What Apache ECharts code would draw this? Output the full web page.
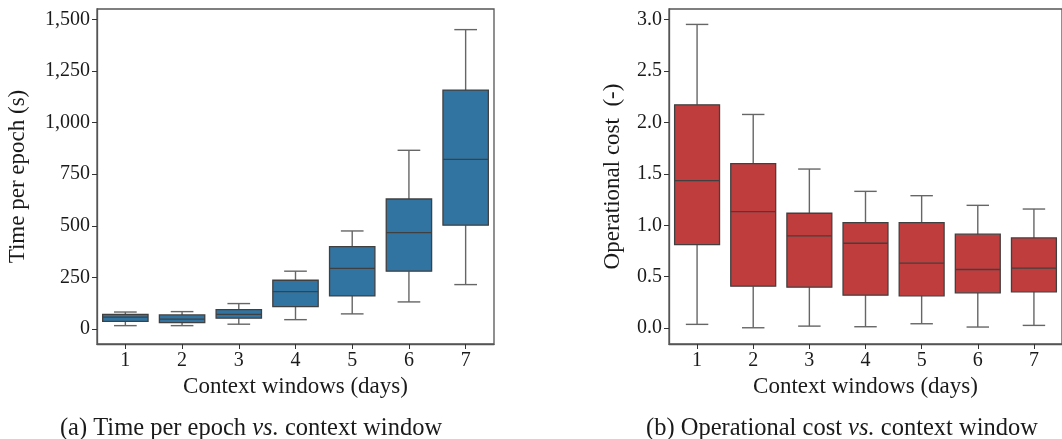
<!DOCTYPE html>
<html><head><meta charset="utf-8">
<script src="https://cdn.jsdelivr.net/npm/echarts@6/dist/echarts.min.js"></script>
<style>html,body{margin:0;padding:0;background:#fff}#c{width:1062px;height:439px}</style>
</head><body><div id="c"></div>
<script>
const categories = ['1','2','3','4','5','6','7'];
// [min, Q1, median, Q3, max]
const timeBoxes = [
  [16, 37, 57, 71, 82],
  [16, 31, 48, 68, 84],
  [23, 52, 71, 94, 123],
  [45, 108, 181, 236, 280],
  [73, 160, 294, 399, 475],
  [131, 280, 467, 630, 866],
  [215, 503, 822, 1158, 1451]
];
const costBoxes = [
  [0.036, 0.812, 1.434, 2.172, 2.954],
  [0.003, 0.408, 1.133, 1.599, 2.078],
  [0.019, 0.398, 0.896, 1.117, 1.547],
  [0.013, 0.320, 0.825, 1.026, 1.330],
  [0.042, 0.314, 0.631, 1.026, 1.288],
  [0.010, 0.343, 0.570, 0.913, 1.194],
  [0.026, 0.353, 0.583, 0.877, 1.158]
];
const timeTicks = [0, 250, 500, 750, 1000, 1250, 1500];
const costTicks = [0, 0.5, 1.0, 1.5, 2.0, 2.5, 3.0];

const FONT = 'Liberation Serif';
const TXT = '#1a1a1a';
const TICK_FS = 20, NAME_FS = 23, CAP_FS = 24.5;
const chart = echarts.init(document.getElementById('c'), null, {renderer: 'canvas'});

function renderBox(color) {
  return function (params, api) {
    const x = api.value(0);
    const pMin = api.coord([x, api.value(1)]);
    const pQ1 = api.coord([x, api.value(2)]);
    const pMed = api.coord([x, api.value(3)]);
    const pQ3 = api.coord([x, api.value(4)]);
    const pMax = api.coord([x, api.value(5)]);
    const band = api.size([1, 0])[0];
    const bw = band * 0.8, cw = bw / 2;
    const cx = pMed[0];
    const wStyle = {stroke: '#666', lineWidth: 1.4, fill: null};
    const eStyle = {stroke: '#404040', lineWidth: 1.3};
    return {
      type: 'group',
      children: [
        {type: 'line', shape: {x1: cx, y1: pQ1[1], x2: cx, y2: pMin[1]}, style: wStyle},
        {type: 'line', shape: {x1: cx, y1: pQ3[1], x2: cx, y2: pMax[1]}, style: wStyle},
        {type: 'line', shape: {x1: cx - cw / 2, y1: pMin[1], x2: cx + cw / 2, y2: pMin[1]}, style: wStyle},
        {type: 'line', shape: {x1: cx - cw / 2, y1: pMax[1], x2: cx + cw / 2, y2: pMax[1]}, style: wStyle},
        {type: 'rect', shape: {x: cx - bw / 2, y: pQ3[1], width: bw, height: pQ1[1] - pQ3[1]},
         style: {fill: color, stroke: '#404040', lineWidth: 1.3}},
        {type: 'line', shape: {x1: cx - bw / 2, y1: pMed[1], x2: cx + bw / 2, y2: pMed[1]}, style: eStyle}
      ]
    };
  };
}

function toData(boxes) {
  return boxes.map((b, i) => [i].concat(b));
}

const axisLineStyle = {color: '#555', width: 1.3};
const tickStyle = {color: '#333', width: 1};

function yAxis(idx, min, max, ticks, fmt, name, gap) {
  return {
    type: 'value', gridIndex: idx, min: min, max: max,
    splitLine: {show: false},
    axisLine: {show: true, onZero: false, lineStyle: axisLineStyle},
    axisTick: {show: true, length: 5, lineStyle: tickStyle, customValues: ticks},
    axisLabel: {customValues: ticks, formatter: fmt, color: TXT, fontFamily: FONT, fontSize: TICK_FS, margin: 7},
    name: name, nameLocation: 'middle', nameGap: gap,
    nameTextStyle: {color: TXT, fontFamily: FONT, fontSize: NAME_FS}
  };
}
function xAxis(idx) {
  return {
    type: 'category', gridIndex: idx, data: categories,
    axisLine: {show: true, onZero: false, lineStyle: axisLineStyle},
    axisTick: {show: true, length: 5, alignWithLabel: true, lineStyle: tickStyle},
    axisLabel: {color: TXT, fontFamily: FONT, fontSize: TICK_FS, margin: 7},
    name: 'Context windows (days)', nameLocation: 'middle', nameGap: 31,
    nameTextStyle: {color: TXT, fontFamily: FONT, fontSize: NAME_FS}
  };
}

function caption(cx, cy, pre, it, post) {
  const ctx = document.createElement('canvas').getContext('2d');
  const f = CAP_FS + 'px "' + FONT + '"', fi = 'italic ' + CAP_FS + 'px "' + FONT + '"';
  ctx.font = f; const w1 = ctx.measureText(pre).width, w3 = ctx.measureText(post).width;
  ctx.font = fi; const w2 = ctx.measureText(it).width;
  const x0 = cx - (w1 + w2 + w3) / 2;
  return [
    {type: 'text', x: x0, y: cy, style: {text: pre, font: f, fill: TXT, textVerticalAlign: 'middle'}},
    {type: 'text', x: x0 + w1, y: cy, style: {text: it, font: fi, fill: TXT, textVerticalAlign: 'middle'}},
    {type: 'text', x: x0 + w1 + w2, y: cy, style: {text: post, font: f, fill: TXT, textVerticalAlign: 'middle'}}
  ];
}

chart.setOption({
  animation: false,
  grid: [
    {left: 97, top: 9, width: 397, height: 335, show: true, borderColor: '#555', borderWidth: 1.3, backgroundColor: 'transparent'},
    {left: 669, top: 9, width: 397, height: 335, show: true, borderColor: '#555', borderWidth: 1.3, backgroundColor: 'transparent'}
  ],
  xAxis: [xAxis(0), xAxis(1)],
  yAxis: [
    yAxis(0, -73, 1551, timeTicks, v => v.toLocaleString('en-US'), 'Time per epoch (s)', 68),
    yAxis(1, -0.155, 3.104, costTicks, v => v.toFixed(1), 'Operational cost  (-)', 45)
  ],
  series: [
    {type: 'custom', xAxisIndex: 0, yAxisIndex: 0, data: toData(timeBoxes), renderItem: renderBox('#3274a1'), clip: false},
    {type: 'custom', xAxisIndex: 1, yAxisIndex: 1, data: toData(costBoxes), renderItem: renderBox('#c03d3e'), clip: false}
  ],
  graphic: caption(251, 429, '(a) Time per epoch ', 'vs.', ' context window')
    .concat(caption(842, 429, '(b) Operational cost ', 'vs.', ' context window'))
});
</script></body></html>
